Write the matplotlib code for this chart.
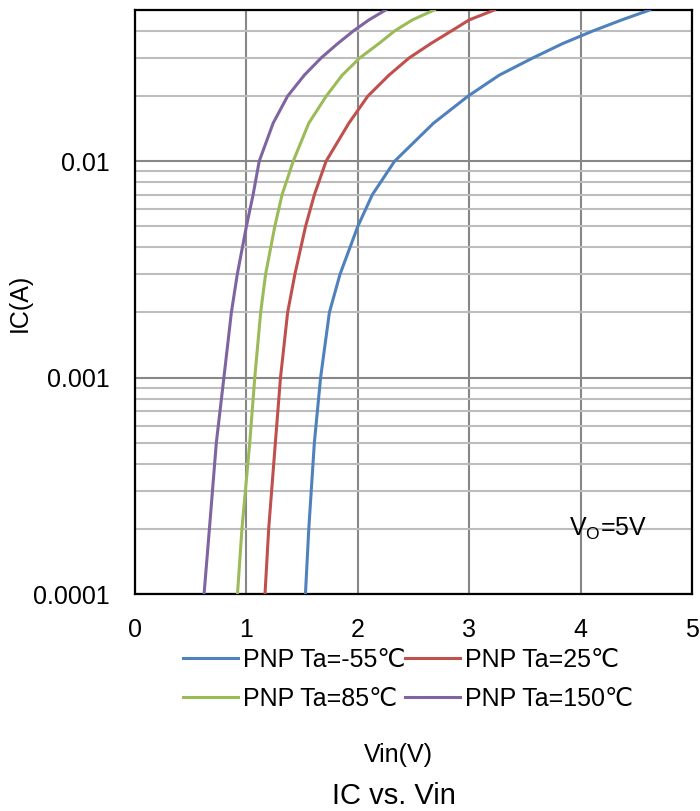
import numpy as np
import matplotlib.pyplot as plt

plt.rcParams['font.family'] = ['Liberation Sans', 'DejaVu Sans']

ic = [0.0001, 0.0002, 0.0005, 0.001, 0.002, 0.003, 0.005, 0.007,
      0.01, 0.015, 0.02, 0.025, 0.03, 0.035, 0.04, 0.045, 0.05]

vin_m55 = [1.53, 1.56, 1.61, 1.666, 1.745, 1.84, 2.00, 2.13,
           2.33, 2.68, 2.99, 3.27, 3.57, 3.84, 4.11, 4.37, 4.62]
vin_25 = [1.167, 1.20, 1.26, 1.306, 1.37, 1.435, 1.531, 1.61,
          1.715, 1.92, 2.09, 2.28, 2.46, 2.656, 2.84, 3.00, 3.226]
vin_85 = [0.92, 0.96, 1.03, 1.075, 1.128, 1.172, 1.255, 1.32,
          1.42, 1.56, 1.717, 1.86, 2.017, 2.19, 2.33, 2.49, 2.686]
vin_150 = [0.62, 0.668, 0.73, 0.798, 0.865, 0.918, 1.00, 1.06,
           1.115, 1.24, 1.37, 1.52, 1.67, 1.82, 1.96, 2.10, 2.25]

labels = ['PNP Ta=-55℃', 'PNP Ta=25℃', 'PNP Ta=85℃', 'PNP Ta=150℃']
colors = ['#4F81BD', '#C0504D', '#9BBB59', '#8064A2']

fig = plt.figure(figsize=(7, 8.11), dpi=100)
ax = fig.add_axes([135 / 700, 1 - 594 / 811, 557 / 700, 584 / 811])

handles = []
for xs, lab, c in zip([vin_m55, vin_25, vin_85, vin_150], labels, colors):
    h, = ax.plot(xs, ic, color=c, lw=2.2, label=lab, zorder=3,
                 solid_joinstyle='round')
    handles.append(h)

ax.set_yscale('log')
ax.set_xlim(0, 5)
ax.set_ylim(0.0001, 0.05)
ax.set_xticks([0, 1, 2, 3, 4, 5])
ax.set_yticks([0.0001, 0.001, 0.01])
ax.set_yticklabels(['0.0001', '0.001', '0.01'])
ax.minorticks_on()
ax.xaxis.set_minor_locator(plt.NullLocator())
ax.yaxis.set_minor_formatter(plt.NullFormatter())

ax.grid(True, which='major', axis='both', color='#878787', lw=1.5)
ax.grid(True, which='minor', axis='y', color='#BDBDBD', lw=1.5)
ax.set_axisbelow(True)

ax.tick_params(which='both', length=0, labelsize=18)
ax.tick_params(axis='x', pad=17)
ax.tick_params(axis='y', pad=18)
for s in ax.spines.values():
    s.set_color('black')
    s.set_linewidth(1.6)

ax.text(3.9, 0.0002, r'V$_\mathregular{O}$=5V', fontsize=18, va='center', ha='left')

fig.text(20 / 700, 1 - 303 / 811, 'IC(A)', rotation=90, fontsize=18, ha='center', va='center')

# row-wise order: -55, 25 / 85, 150
order = [0, 2, 1, 3]
fig.legend([handles[i] for i in order], [labels[i] for i in order],
           loc='center', bbox_to_anchor=(408 / 700, 1 - 679 / 811), ncol=2,
           frameon=False, fontsize=18, handlelength=2.2, handletextpad=0.2,
           columnspacing=0.0, labelspacing=0.6, borderpad=0)

fig.text(398 / 700, 1 - 755 / 811, 'Vin(V)', fontsize=18, ha='center', va='center')
fig.text(394 / 700, 1 - 796 / 811, 'IC vs. Vin', fontsize=21, ha='center', va='center')

fig.savefig('out.png', dpi=100)
